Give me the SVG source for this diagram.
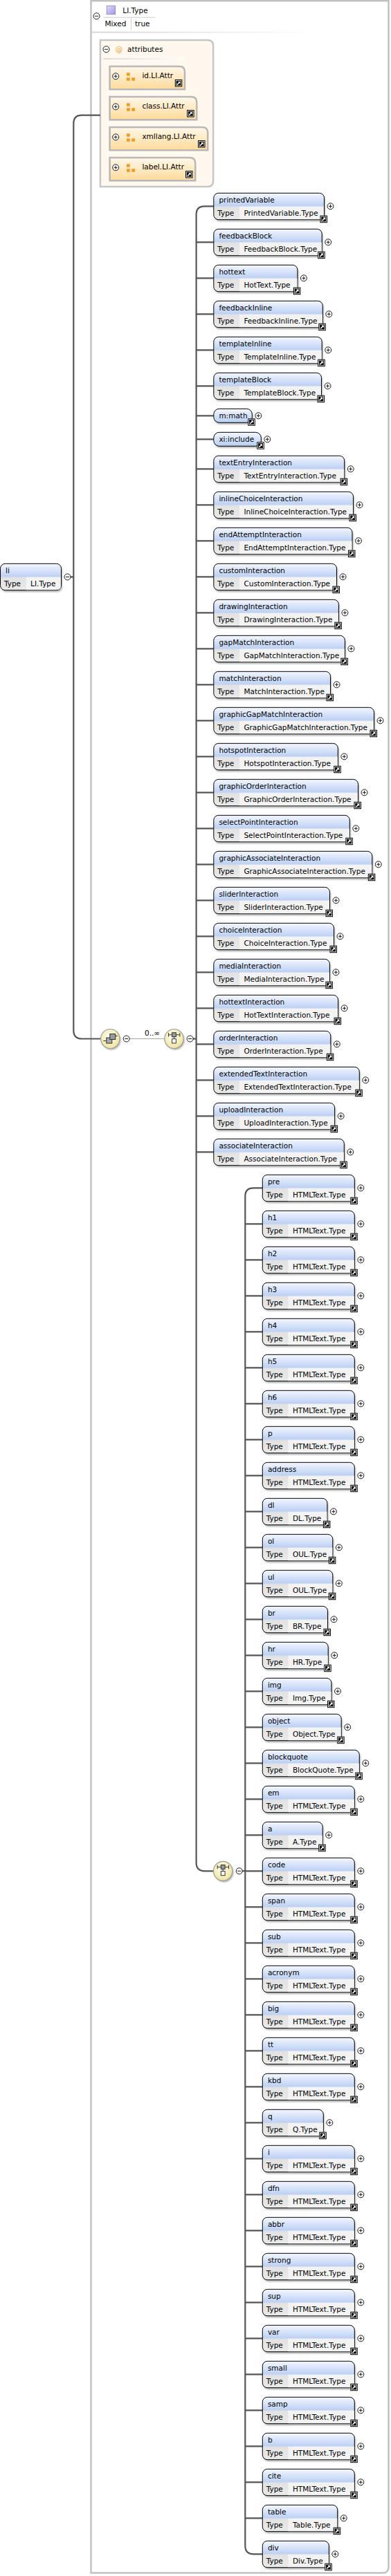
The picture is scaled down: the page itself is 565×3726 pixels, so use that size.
<svg xmlns="http://www.w3.org/2000/svg" xmlns:xlink="http://www.w3.org/1999/xlink" width="565" height="3726" viewBox="0 0 565 3726">
<style>
text{font-family:"DejaVu Sans",Verdana,sans-serif;font-size:10.5px;fill:#000}
.eb{fill:url(#ge);stroke:#000;stroke-width:1}
.sb{fill:url(#gs);stroke:#000;stroke-width:1}
.vc{fill:#f3f3f3}
.sd{fill:#000;opacity:.3;filter:url(#bl)}
.cn{fill:none;stroke:#555;stroke-width:2.2}
.ab{fill:url(#ga);stroke:#b8b8b8;stroke-width:2.5}
.oi{fill:#f39a1e}
.nd{fill:url(#gn);stroke:#9a9a9a;stroke-width:1.2}
</style>
<defs>
<filter id="bl" x="-20%" y="-30%" width="140%" height="170%"><feGaussianBlur stdDeviation="1.2"/></filter>
<linearGradient id="ge" x1="0" y1="0" x2="0" y2="1"><stop offset="0" stop-color="#f4f7fe"/><stop offset=".495" stop-color="#bbd0f4"/><stop offset=".505" stop-color="#e2e2e2"/><stop offset="1" stop-color="#e9e9e9"/></linearGradient>
<linearGradient id="gs" x1="0" y1="0" x2="0" y2="1"><stop offset="0" stop-color="#f4f7fe"/><stop offset="1" stop-color="#b8cef3"/></linearGradient>
<linearGradient id="ga" x1="0" y1="0" x2="0" y2="1"><stop offset="0" stop-color="#fff8ea"/><stop offset="1" stop-color="#ffda9a"/></linearGradient>
<linearGradient id="gf" x1="0" y1="0" x2="1" y2="0"><stop offset="0" stop-color="#d4d4d4"/><stop offset="1" stop-color="#fff"/></linearGradient>
<linearGradient id="gp" x1="0" y1="0" x2="1" y2="1"><stop offset="0" stop-color="#e4dcfb"/><stop offset="1" stop-color="#a593e2"/></linearGradient>
<radialGradient id="gn" cx=".45" cy=".4" r=".6"><stop offset="0" stop-color="#fffef0"/><stop offset="1" stop-color="#efe4a0"/></radialGradient>
<g id="lk"><rect x=".5" y=".5" width="9.5" height="9.5" fill="#fff" stroke="#000" stroke-width="1"/><rect x="1.8" y="1.8" width="6.9" height="6.9" fill="#000"/><path d="M3 7.6 L6.4 4.2" stroke="#fff" stroke-width="1.5"/><path d="M4.2 2.9 H7.6 V6.3 Z" fill="#fff"/></g>
<g id="pl"><circle r="4.5" fill="#fff" stroke="#000" stroke-width=".9"/><path d="M-2.5 0H2.5M0 -2.5V2.5" stroke="#000" stroke-width=".9"/></g>
<g id="mi"><circle r="4.5" fill="#fff" stroke="#000" stroke-width=".9"/><path d="M-2.5 0H2.5" stroke="#000" stroke-width=".9"/></g>
<g id="ai"><rect class="oi" x="0" y="0" width="4.7" height="4.4"/><rect class="oi" x="0" y="7" width="4.7" height="4.4"/><rect class="oi" x="7.3" y="7" width="4.7" height="4.4"/></g>
<g id="ci"><path d="M-8 -8.5V-3M8.3 -8.5V-3M-8 -5.7H8.3" stroke="#333" stroke-width="1"/><rect x="-2.9" y="-8.8" width="5.8" height="6" fill="#999" stroke="#333" stroke-width="1"/><path d="M0 -2.8V0.2" stroke="#333" stroke-width="1"/><rect x="-2.9" y="0.2" width="5.8" height="6.2" fill="#fff" stroke="#333" stroke-width="1"/></g>
</defs>

<g id="frame">
<path d="M131.5 1.2 H561.5 V3713 Q561.5 3721.6 553 3721.6 H131.5 Z" fill="#fff" stroke="#c2c2c2" stroke-width="2.5"/>
<rect x="133" y="45.8" width="324" height="1.8" fill="url(#gf)"/>
<use href="#mi" x="139.5" y="23.3"/>
<rect x="154.2" y="8.3" width="12.4" height="12.4" fill="url(#gp)" stroke="#8a7ac8" stroke-width=".8"/>
<text x="177.3" y="18.5">LI.Type</text>
<path d="M149.5 25.2 H224.5" stroke="#cfcfcf" stroke-width="1"/>
<text x="151.4" y="37.7">Mixed</text>
<path d="M189.5 25.5 V43" stroke="#d4d4d4" stroke-width="1"/>
<text x="195" y="37.7">true</text>
</g>

<g id="attributes">
<path d="M144.9 58 H300.1 Q308.1 58 308.1 66 V262 Q308.1 270 300.1 270 H144.9 Z" fill="#fff8ee" stroke="#c6c6c6" stroke-width="2.5"/>
<use href="#mi" x="153.5" y="71.3"/>
<text x="166.8" y="75" style="fill:#f2a23a">@</text>
<text x="184.1" y="75">attributes</text>
<rect x="149.5" y="84.3" width="117" height="1.6" fill="url(#gf)"/>
</g>
<g id="a-id" transform="translate(158.6,96)"><path class="ab" d="M0 0 H100.4 Q108.4 0 108.4 8 V33.3 H0 Z"/><use href="#pl" x="8.6" y="14.3"/><use href="#ai" x="24.4" y="9.3"/><text x="46.8" y="17.3">id.LI.Attr</text><use href="#lk" x="94.2" y="19"/></g>
<g id="a-class" transform="translate(158.6,140)"><path class="ab" d="M0 0 H117.7 Q125.7 0 125.7 8 V33.3 H0 Z"/><use href="#pl" x="8.6" y="14.3"/><use href="#ai" x="24.4" y="9.3"/><text x="46.8" y="17.3">class.LI.Attr</text><use href="#lk" x="111.5" y="19"/></g>
<g id="a-xmllang" transform="translate(158.6,184)"><path class="ab" d="M0 0 H133.6 Q141.6 0 141.6 8 V33.3 H0 Z"/><use href="#pl" x="8.6" y="14.3"/><use href="#ai" x="24.4" y="9.3"/><text x="46.8" y="17.3">xmllang.LI.Attr</text><use href="#lk" x="127.4" y="19"/></g>
<g id="a-label" transform="translate(158.6,228)"><path class="ab" d="M0 0 H115.6 Q123.6 0 123.6 8 V33.3 H0 Z"/><use href="#pl" x="8.6" y="14.3"/><use href="#ai" x="24.4" y="9.3"/><text x="46.8" y="17.3">label.LI.Attr</text><use href="#lk" x="109.4" y="19"/></g>

<g id="connectors">
<path class="cn" d="M101.5 834.5 H106.3"/>
<path class="cn" d="M144.9 166.7 H118.3 Q106.3 166.7 106.3 178.7 V1490.5 Q106.3 1502.5 118.3 1502.5 H145.6"/>
<path d="M187.2 1502.5 H237.8" stroke="#a8a8a8" stroke-width="1"/>
<path class="cn" d="M279.1 1502.5 H283.6"/>
<path class="cn" d="M308.8 298.3 H295.6 Q283.6 298.3 283.6 310.3 V2694.3 Q283.6 2706.3 295.6 2706.3 H308.6"/>
<path class="cn" d="M283.6 350.3H308.8M283.6 402.3H308.8M283.6 454.3H308.8M283.6 506.3H308.8M283.6 558.3H308.8M283.6 601.3H308.8M283.6 635.3H308.8M283.6 678.3H308.8M283.6 730.3H308.8M283.6 782.3H308.8M283.6 834.3H308.8M283.6 886.3H308.8M283.6 938.3H308.8M283.6 990.3H308.8M283.6 1042.3H308.8M283.6 1094.3H308.8M283.6 1146.3H308.8M283.6 1198.3H308.8M283.6 1250.3H308.8M283.6 1302.3H308.8M283.6 1354.3H308.8M283.6 1406.3H308.8M283.6 1458.3H308.8M283.6 1510.3H308.8M283.6 1562.3H308.8M283.6 1614.3H308.8M283.6 1666.3H308.8"/>
<path class="cn" d="M350.2 2706.3 H354.3"/>
<path class="cn" d="M379.3 1718.3 H366.3 Q354.3 1718.3 354.3 1730.3 V3682.3 Q354.3 3694.3 366.3 3694.3 H379.3"/>
<path class="cn" d="M354.3 1770.3H379.3M354.3 1822.3H379.3M354.3 1874.3H379.3M354.3 1926.3H379.3M354.3 1978.3H379.3M354.3 2030.3H379.3M354.3 2082.3H379.3M354.3 2134.3H379.3M354.3 2186.3H379.3M354.3 2238.3H379.3M354.3 2290.3H379.3M354.3 2342.3H379.3M354.3 2394.3H379.3M354.3 2446.3H379.3M354.3 2498.3H379.3M354.3 2550.3H379.3M354.3 2602.3H379.3M354.3 2654.3H379.3M354.3 2706.3H379.3M354.3 2758.3H379.3M354.3 2810.3H379.3M354.3 2862.3H379.3M354.3 2914.3H379.3M354.3 2966.3H379.3M354.3 3018.3H379.3M354.3 3070.3H379.3M354.3 3122.3H379.3M354.3 3174.3H379.3M354.3 3226.3H379.3M354.3 3278.3H379.3M354.3 3330.3H379.3M354.3 3382.3H379.3M354.3 3434.3H379.3M354.3 3486.3H379.3M354.3 3538.3H379.3M354.3 3590.3H379.3M354.3 3642.3H379.3"/>
</g>

<g id="li" transform="translate(0.5,815.3)"><rect class="sd" x="1.5" y="2.5" width="88" height="38.4" rx="7"/><rect class="eb" width="88" height="38.4" rx="7"/><path class="vc" d="M37.2 19.4 H87.5 V31.4 Q87.5 37.9 81 37.9 H37.2 Z"/><text x="7.6" y="13.4">li</text><text x="5.4" y="32.4">Type</text><text x="43.6" y="32.4">LI.Type</text><use href="#mi" x="97" y="19.2"/></g>

<g id="sequence" transform="translate(159.3,1502.5)"><ellipse class="sd" cx="1.5" cy="2.2" rx="13.7" ry="14"/><ellipse class="nd" rx="13.7" ry="14"/><path d="M-10 3H-5.5M7.5 -4H10.5" stroke="#333" stroke-width="1"/><rect x="-5.5" y="-1.5" width="8" height="8" fill="#aaa" stroke="#333" stroke-width="1"/><rect x="-0.5" y="-7" width="8" height="8" fill="#999" stroke="#333" stroke-width="1"/><use href="#mi" x="23.4" y="0"/></g>
<text x="209" y="1498.3">0..∞</text>
<g id="choice" transform="translate(251.5,1502.5)"><ellipse class="sd" cx="1.5" cy="2.2" rx="13.7" ry="14"/><ellipse class="nd" rx="13.7" ry="14"/><use href="#ci"/><use href="#mi" x="23.1" y="0"/></g>
<g id="choice2" transform="translate(322.2,2706.3)"><ellipse class="sd" cx="1.5" cy="2.2" rx="13.7" ry="14"/><ellipse class="nd" rx="13.7" ry="14"/><use href="#ci"/><use href="#mi" x="23.5" y="0"/></g>

<g id="e-printedVariable" transform="translate(308.8,279.3)"><rect class="sd" x="1.5" y="2.5" width="159.7" height="38.4" rx="7"/><rect class="eb" width="159.7" height="38.4" rx="7"/><rect class="vc" x="37.2" y="19.4" width="122" height="18.5"/><text x="7.6" y="13.4">printedVariable</text><text x="5.4" y="32.4">Type</text><text x="43.6" y="32.4">PrintedVariable.Type</text><use href="#lk" x="153.7" y="32.4"/><use href="#pl" x="168.7" y="19"/></g>
<g id="e-feedbackBlock" transform="translate(308.8,331.3)"><rect class="sd" x="1.5" y="2.5" width="156.4" height="38.4" rx="7"/><rect class="eb" width="156.4" height="38.4" rx="7"/><rect class="vc" x="37.2" y="19.4" width="118.7" height="18.5"/><text x="7.6" y="13.4">feedbackBlock</text><text x="5.4" y="32.4">Type</text><text x="43.6" y="32.4">FeedbackBlock.Type</text><use href="#lk" x="150.4" y="32.4"/><use href="#pl" x="165.4" y="19"/></g>
<g id="e-hottext" transform="translate(308.8,383.3)"><rect class="sd" x="1.5" y="2.5" width="121.1" height="38.4" rx="7"/><rect class="eb" width="121.1" height="38.4" rx="7"/><rect class="vc" x="37.2" y="19.4" width="83.4" height="18.5"/><text x="7.6" y="13.4">hottext</text><text x="5.4" y="32.4">Type</text><text x="43.6" y="32.4">HotText.Type</text><use href="#lk" x="115.1" y="32.4"/><use href="#pl" x="130.1" y="19"/></g>
<g id="e-feedbackInline" transform="translate(308.8,435.3)"><rect class="sd" x="1.5" y="2.5" width="157.5" height="38.4" rx="7"/><rect class="eb" width="157.5" height="38.4" rx="7"/><rect class="vc" x="37.2" y="19.4" width="119.8" height="18.5"/><text x="7.6" y="13.4">feedbackInline</text><text x="5.4" y="32.4">Type</text><text x="43.6" y="32.4">FeedbackInline.Type</text><use href="#lk" x="151.5" y="32.4"/><use href="#pl" x="166.5" y="19"/></g>
<g id="e-templateInline" transform="translate(308.8,487.3)"><rect class="sd" x="1.5" y="2.5" width="156.4" height="38.4" rx="7"/><rect class="eb" width="156.4" height="38.4" rx="7"/><rect class="vc" x="37.2" y="19.4" width="118.7" height="18.5"/><text x="7.6" y="13.4">templateInline</text><text x="5.4" y="32.4">Type</text><text x="43.6" y="32.4">TemplateInline.Type</text><use href="#lk" x="150.4" y="32.4"/><use href="#pl" x="165.4" y="19"/></g>
<g id="e-templateBlock" transform="translate(308.8,539.3)"><rect class="sd" x="1.5" y="2.5" width="155.7" height="38.4" rx="7"/><rect class="eb" width="155.7" height="38.4" rx="7"/><rect class="vc" x="37.2" y="19.4" width="118" height="18.5"/><text x="7.6" y="13.4">templateBlock</text><text x="5.4" y="32.4">Type</text><text x="43.6" y="32.4">TemplateBlock.Type</text><use href="#lk" x="149.7" y="32.4"/><use href="#pl" x="164.7" y="19"/></g>
<g id="e-m-math" transform="translate(308.8,591.3)"><rect class="sd" x="1.5" y="2.5" width="55.5" height="20" rx="8"/><rect class="sb" width="55.5" height="20" rx="8"/><text x="7.6" y="13.7">m:math</text><use href="#lk" x="49.5" y="14"/><use href="#pl" x="64.5" y="10"/></g>
<g id="e-xi-include" transform="translate(308.8,625.3)"><rect class="sd" x="1.5" y="2.5" width="68.5" height="20" rx="8"/><rect class="sb" width="68.5" height="20" rx="8"/><text x="7.6" y="13.7">xi:include</text><use href="#lk" x="62.5" y="14"/><use href="#pl" x="77.5" y="10"/></g>
<g id="e-textEntryInteraction" transform="translate(308.8,659.3)"><rect class="sd" x="1.5" y="2.5" width="188.9" height="38.4" rx="7"/><rect class="eb" width="188.9" height="38.4" rx="7"/><rect class="vc" x="37.2" y="19.4" width="151.2" height="18.5"/><text x="7.6" y="13.4">textEntryInteraction</text><text x="5.4" y="32.4">Type</text><text x="43.6" y="32.4">TextEntryInteraction.Type</text><use href="#lk" x="182.9" y="32.4"/><use href="#pl" x="197.9" y="19"/></g>
<g id="e-inlineChoiceInteraction" transform="translate(308.8,711.3)"><rect class="sd" x="1.5" y="2.5" width="201.7" height="38.4" rx="7"/><rect class="eb" width="201.7" height="38.4" rx="7"/><rect class="vc" x="37.2" y="19.4" width="164" height="18.5"/><text x="7.6" y="13.4">inlineChoiceInteraction</text><text x="5.4" y="32.4">Type</text><text x="43.6" y="32.4">InlineChoiceInteraction.Type</text><use href="#lk" x="195.7" y="32.4"/><use href="#pl" x="210.7" y="19"/></g>
<g id="e-endAttemptInteraction" transform="translate(308.8,763.3)"><rect class="sd" x="1.5" y="2.5" width="200.2" height="38.4" rx="7"/><rect class="eb" width="200.2" height="38.4" rx="7"/><rect class="vc" x="37.2" y="19.4" width="162.5" height="18.5"/><text x="7.6" y="13.4">endAttemptInteraction</text><text x="5.4" y="32.4">Type</text><text x="43.6" y="32.4">EndAttemptInteraction.Type</text><use href="#lk" x="194.2" y="32.4"/><use href="#pl" x="209.2" y="19"/></g>
<g id="e-customInteraction" transform="translate(308.8,815.3)"><rect class="sd" x="1.5" y="2.5" width="177.7" height="38.4" rx="7"/><rect class="eb" width="177.7" height="38.4" rx="7"/><rect class="vc" x="37.2" y="19.4" width="140" height="18.5"/><text x="7.6" y="13.4">customInteraction</text><text x="5.4" y="32.4">Type</text><text x="43.6" y="32.4">CustomInteraction.Type</text><use href="#lk" x="171.7" y="32.4"/><use href="#pl" x="186.7" y="19"/></g>
<g id="e-drawingInteraction" transform="translate(308.8,867.3)"><rect class="sd" x="1.5" y="2.5" width="180.6" height="38.4" rx="7"/><rect class="eb" width="180.6" height="38.4" rx="7"/><rect class="vc" x="37.2" y="19.4" width="142.9" height="18.5"/><text x="7.6" y="13.4">drawingInteraction</text><text x="5.4" y="32.4">Type</text><text x="43.6" y="32.4">DrawingInteraction.Type</text><use href="#lk" x="174.6" y="32.4"/><use href="#pl" x="189.6" y="19"/></g>
<g id="e-gapMatchInteraction" transform="translate(308.8,919.3)"><rect class="sd" x="1.5" y="2.5" width="189.6" height="38.4" rx="7"/><rect class="eb" width="189.6" height="38.4" rx="7"/><rect class="vc" x="37.2" y="19.4" width="151.9" height="18.5"/><text x="7.6" y="13.4">gapMatchInteraction</text><text x="5.4" y="32.4">Type</text><text x="43.6" y="32.4">GapMatchInteraction.Type</text><use href="#lk" x="183.6" y="32.4"/><use href="#pl" x="198.6" y="19"/></g>
<g id="e-matchInteraction" transform="translate(308.8,971.3)"><rect class="sd" x="1.5" y="2.5" width="168.7" height="38.4" rx="7"/><rect class="eb" width="168.7" height="38.4" rx="7"/><rect class="vc" x="37.2" y="19.4" width="131" height="18.5"/><text x="7.6" y="13.4">matchInteraction</text><text x="5.4" y="32.4">Type</text><text x="43.6" y="32.4">MatchInteraction.Type</text><use href="#lk" x="162.7" y="32.4"/><use href="#pl" x="177.7" y="19"/></g>
<g id="e-graphicGapMatchInteraction" transform="translate(308.8,1023.3)"><rect class="sd" x="1.5" y="2.5" width="231.7" height="38.4" rx="7"/><rect class="eb" width="231.7" height="38.4" rx="7"/><rect class="vc" x="37.2" y="19.4" width="194" height="18.5"/><text x="7.6" y="13.4">graphicGapMatchInteraction</text><text x="5.4" y="32.4">Type</text><text x="43.6" y="32.4">GraphicGapMatchInteraction.Type</text><use href="#lk" x="225.7" y="32.4"/><use href="#pl" x="240.7" y="19"/></g>
<g id="e-hotspotInteraction" transform="translate(308.8,1075.3)"><rect class="sd" x="1.5" y="2.5" width="179.5" height="38.4" rx="7"/><rect class="eb" width="179.5" height="38.4" rx="7"/><rect class="vc" x="37.2" y="19.4" width="141.8" height="18.5"/><text x="7.6" y="13.4">hotspotInteraction</text><text x="5.4" y="32.4">Type</text><text x="43.6" y="32.4">HotspotInteraction.Type</text><use href="#lk" x="173.5" y="32.4"/><use href="#pl" x="188.5" y="19"/></g>
<g id="e-graphicOrderInteraction" transform="translate(308.8,1127.3)"><rect class="sd" x="1.5" y="2.5" width="208.7" height="38.4" rx="7"/><rect class="eb" width="208.7" height="38.4" rx="7"/><rect class="vc" x="37.2" y="19.4" width="171" height="18.5"/><text x="7.6" y="13.4">graphicOrderInteraction</text><text x="5.4" y="32.4">Type</text><text x="43.6" y="32.4">GraphicOrderInteraction.Type</text><use href="#lk" x="202.7" y="32.4"/><use href="#pl" x="217.7" y="19"/></g>
<g id="e-selectPointInteraction" transform="translate(308.8,1179.3)"><rect class="sd" x="1.5" y="2.5" width="196.5" height="38.4" rx="7"/><rect class="eb" width="196.5" height="38.4" rx="7"/><rect class="vc" x="37.2" y="19.4" width="158.8" height="18.5"/><text x="7.6" y="13.4">selectPointInteraction</text><text x="5.4" y="32.4">Type</text><text x="43.6" y="32.4">SelectPointInteraction.Type</text><use href="#lk" x="190.5" y="32.4"/><use href="#pl" x="205.5" y="19"/></g>
<g id="e-graphicAssociateInteraction" transform="translate(308.8,1231.3)"><rect class="sd" x="1.5" y="2.5" width="229" height="38.4" rx="7"/><rect class="eb" width="229" height="38.4" rx="7"/><rect class="vc" x="37.2" y="19.4" width="191.3" height="18.5"/><text x="7.6" y="13.4">graphicAssociateInteraction</text><text x="5.4" y="32.4">Type</text><text x="43.6" y="32.4">GraphicAssociateInteraction.Type</text><use href="#lk" x="223" y="32.4"/><use href="#pl" x="238" y="19"/></g>
<g id="e-sliderInteraction" transform="translate(308.8,1283.3)"><rect class="sd" x="1.5" y="2.5" width="167.7" height="38.4" rx="7"/><rect class="eb" width="167.7" height="38.4" rx="7"/><rect class="vc" x="37.2" y="19.4" width="130" height="18.5"/><text x="7.6" y="13.4">sliderInteraction</text><text x="5.4" y="32.4">Type</text><text x="43.6" y="32.4">SliderInteraction.Type</text><use href="#lk" x="161.7" y="32.4"/><use href="#pl" x="176.7" y="19"/></g>
<g id="e-choiceInteraction" transform="translate(308.8,1335.3)"><rect class="sd" x="1.5" y="2.5" width="173.7" height="38.4" rx="7"/><rect class="eb" width="173.7" height="38.4" rx="7"/><rect class="vc" x="37.2" y="19.4" width="136" height="18.5"/><text x="7.6" y="13.4">choiceInteraction</text><text x="5.4" y="32.4">Type</text><text x="43.6" y="32.4">ChoiceInteraction.Type</text><use href="#lk" x="167.7" y="32.4"/><use href="#pl" x="182.7" y="19"/></g>
<g id="e-mediaInteraction" transform="translate(308.8,1387.3)"><rect class="sd" x="1.5" y="2.5" width="167.6" height="38.4" rx="7"/><rect class="eb" width="167.6" height="38.4" rx="7"/><rect class="vc" x="37.2" y="19.4" width="129.9" height="18.5"/><text x="7.6" y="13.4">mediaInteraction</text><text x="5.4" y="32.4">Type</text><text x="43.6" y="32.4">MediaInteraction.Type</text><use href="#lk" x="161.6" y="32.4"/><use href="#pl" x="176.6" y="19"/></g>
<g id="e-hottextInteraction" transform="translate(308.8,1439.3)"><rect class="sd" x="1.5" y="2.5" width="179.8" height="38.4" rx="7"/><rect class="eb" width="179.8" height="38.4" rx="7"/><rect class="vc" x="37.2" y="19.4" width="142.1" height="18.5"/><text x="7.6" y="13.4">hottextInteraction</text><text x="5.4" y="32.4">Type</text><text x="43.6" y="32.4">HotTextInteraction.Type</text><use href="#lk" x="173.8" y="32.4"/><use href="#pl" x="188.8" y="19"/></g>
<g id="e-orderInteraction" transform="translate(308.8,1491.3)"><rect class="sd" x="1.5" y="2.5" width="169" height="38.4" rx="7"/><rect class="eb" width="169" height="38.4" rx="7"/><rect class="vc" x="37.2" y="19.4" width="131.3" height="18.5"/><text x="7.6" y="13.4">orderInteraction</text><text x="5.4" y="32.4">Type</text><text x="43.6" y="32.4">OrderInteraction.Type</text><use href="#lk" x="163" y="32.4"/><use href="#pl" x="178" y="19"/></g>
<g id="e-extendedTextInteraction" transform="translate(308.8,1543.3)"><rect class="sd" x="1.5" y="2.5" width="210.5" height="38.4" rx="7"/><rect class="eb" width="210.5" height="38.4" rx="7"/><rect class="vc" x="37.2" y="19.4" width="172.8" height="18.5"/><text x="7.6" y="13.4">extendedTextInteraction</text><text x="5.4" y="32.4">Type</text><text x="43.6" y="32.4">ExtendedTextInteraction.Type</text><use href="#lk" x="204.5" y="32.4"/><use href="#pl" x="219.5" y="19"/></g>
<g id="e-uploadInteraction" transform="translate(308.8,1595.3)"><rect class="sd" x="1.5" y="2.5" width="174.8" height="38.4" rx="7"/><rect class="eb" width="174.8" height="38.4" rx="7"/><rect class="vc" x="37.2" y="19.4" width="137.1" height="18.5"/><text x="7.6" y="13.4">uploadInteraction</text><text x="5.4" y="32.4">Type</text><text x="43.6" y="32.4">UploadInteraction.Type</text><use href="#lk" x="168.8" y="32.4"/><use href="#pl" x="183.8" y="19"/></g>
<g id="e-associateInteraction" transform="translate(308.8,1647.3)"><rect class="sd" x="1.5" y="2.5" width="188.5" height="38.4" rx="7"/><rect class="eb" width="188.5" height="38.4" rx="7"/><rect class="vc" x="37.2" y="19.4" width="150.8" height="18.5"/><text x="7.6" y="13.4">associateInteraction</text><text x="5.4" y="32.4">Type</text><text x="43.6" y="32.4">AssociateInteraction.Type</text><use href="#lk" x="182.5" y="32.4"/><use href="#pl" x="197.5" y="19"/></g>

<g id="h-pre" transform="translate(379.3,1699.3)"><rect class="sd" x="1.5" y="2.5" width="133" height="38.4" rx="7"/><rect class="eb" width="133" height="38.4" rx="7"/><rect class="vc" x="37.2" y="19.4" width="95.3" height="18.5"/><text x="7.6" y="13.4">pre</text><text x="5.4" y="32.4">Type</text><text x="43.6" y="32.4">HTMLText.Type</text><use href="#lk" x="127" y="32.4"/><use href="#pl" x="142" y="19"/></g>
<g id="h-h1" transform="translate(379.3,1751.3)"><rect class="sd" x="1.5" y="2.5" width="133" height="38.4" rx="7"/><rect class="eb" width="133" height="38.4" rx="7"/><rect class="vc" x="37.2" y="19.4" width="95.3" height="18.5"/><text x="7.6" y="13.4">h1</text><text x="5.4" y="32.4">Type</text><text x="43.6" y="32.4">HTMLText.Type</text><use href="#lk" x="127" y="32.4"/><use href="#pl" x="142" y="19"/></g>
<g id="h-h2" transform="translate(379.3,1803.3)"><rect class="sd" x="1.5" y="2.5" width="133" height="38.4" rx="7"/><rect class="eb" width="133" height="38.4" rx="7"/><rect class="vc" x="37.2" y="19.4" width="95.3" height="18.5"/><text x="7.6" y="13.4">h2</text><text x="5.4" y="32.4">Type</text><text x="43.6" y="32.4">HTMLText.Type</text><use href="#lk" x="127" y="32.4"/><use href="#pl" x="142" y="19"/></g>
<g id="h-h3" transform="translate(379.3,1855.3)"><rect class="sd" x="1.5" y="2.5" width="133" height="38.4" rx="7"/><rect class="eb" width="133" height="38.4" rx="7"/><rect class="vc" x="37.2" y="19.4" width="95.3" height="18.5"/><text x="7.6" y="13.4">h3</text><text x="5.4" y="32.4">Type</text><text x="43.6" y="32.4">HTMLText.Type</text><use href="#lk" x="127" y="32.4"/><use href="#pl" x="142" y="19"/></g>
<g id="h-h4" transform="translate(379.3,1907.3)"><rect class="sd" x="1.5" y="2.5" width="133" height="38.4" rx="7"/><rect class="eb" width="133" height="38.4" rx="7"/><rect class="vc" x="37.2" y="19.4" width="95.3" height="18.5"/><text x="7.6" y="13.4">h4</text><text x="5.4" y="32.4">Type</text><text x="43.6" y="32.4">HTMLText.Type</text><use href="#lk" x="127" y="32.4"/><use href="#pl" x="142" y="19"/></g>
<g id="h-h5" transform="translate(379.3,1959.3)"><rect class="sd" x="1.5" y="2.5" width="133" height="38.4" rx="7"/><rect class="eb" width="133" height="38.4" rx="7"/><rect class="vc" x="37.2" y="19.4" width="95.3" height="18.5"/><text x="7.6" y="13.4">h5</text><text x="5.4" y="32.4">Type</text><text x="43.6" y="32.4">HTMLText.Type</text><use href="#lk" x="127" y="32.4"/><use href="#pl" x="142" y="19"/></g>
<g id="h-h6" transform="translate(379.3,2011.3)"><rect class="sd" x="1.5" y="2.5" width="133" height="38.4" rx="7"/><rect class="eb" width="133" height="38.4" rx="7"/><rect class="vc" x="37.2" y="19.4" width="95.3" height="18.5"/><text x="7.6" y="13.4">h6</text><text x="5.4" y="32.4">Type</text><text x="43.6" y="32.4">HTMLText.Type</text><use href="#lk" x="127" y="32.4"/><use href="#pl" x="142" y="19"/></g>
<g id="h-p" transform="translate(379.3,2063.3)"><rect class="sd" x="1.5" y="2.5" width="133" height="38.4" rx="7"/><rect class="eb" width="133" height="38.4" rx="7"/><rect class="vc" x="37.2" y="19.4" width="95.3" height="18.5"/><text x="7.6" y="13.4">p</text><text x="5.4" y="32.4">Type</text><text x="43.6" y="32.4">HTMLText.Type</text><use href="#lk" x="127" y="32.4"/><use href="#pl" x="142" y="19"/></g>
<g id="h-address" transform="translate(379.3,2115.3)"><rect class="sd" x="1.5" y="2.5" width="133" height="38.4" rx="7"/><rect class="eb" width="133" height="38.4" rx="7"/><rect class="vc" x="37.2" y="19.4" width="95.3" height="18.5"/><text x="7.6" y="13.4">address</text><text x="5.4" y="32.4">Type</text><text x="43.6" y="32.4">HTMLText.Type</text><use href="#lk" x="127" y="32.4"/><use href="#pl" x="142" y="19"/></g>
<g id="h-dl" transform="translate(379.3,2167.3)"><rect class="sd" x="1.5" y="2.5" width="93.6" height="38.4" rx="7"/><rect class="eb" width="93.6" height="38.4" rx="7"/><rect class="vc" x="37.2" y="19.4" width="55.9" height="18.5"/><text x="7.6" y="13.4">dl</text><text x="5.4" y="32.4">Type</text><text x="43.6" y="32.4">DL.Type</text><use href="#lk" x="87.6" y="32.4"/><use href="#pl" x="102.6" y="19"/></g>
<g id="h-ol" transform="translate(379.3,2219.3)"><rect class="sd" x="1.5" y="2.5" width="101.5" height="38.4" rx="7"/><rect class="eb" width="101.5" height="38.4" rx="7"/><rect class="vc" x="37.2" y="19.4" width="63.8" height="18.5"/><text x="7.6" y="13.4">ol</text><text x="5.4" y="32.4">Type</text><text x="43.6" y="32.4">OUL.Type</text><use href="#lk" x="95.5" y="32.4"/><use href="#pl" x="110.5" y="19"/></g>
<g id="h-ul" transform="translate(379.3,2271.3)"><rect class="sd" x="1.5" y="2.5" width="101.5" height="38.4" rx="7"/><rect class="eb" width="101.5" height="38.4" rx="7"/><rect class="vc" x="37.2" y="19.4" width="63.8" height="18.5"/><text x="7.6" y="13.4">ul</text><text x="5.4" y="32.4">Type</text><text x="43.6" y="32.4">OUL.Type</text><use href="#lk" x="95.5" y="32.4"/><use href="#pl" x="110.5" y="19"/></g>
<g id="h-br" transform="translate(379.3,2323.3)"><rect class="sd" x="1.5" y="2.5" width="94.2" height="38.4" rx="7"/><rect class="eb" width="94.2" height="38.4" rx="7"/><rect class="vc" x="37.2" y="19.4" width="56.5" height="18.5"/><text x="7.6" y="13.4">br</text><text x="5.4" y="32.4">Type</text><text x="43.6" y="32.4">BR.Type</text><use href="#lk" x="88.2" y="32.4"/><use href="#pl" x="103.2" y="19"/></g>
<g id="h-hr" transform="translate(379.3,2375.3)"><rect class="sd" x="1.5" y="2.5" width="94.9" height="38.4" rx="7"/><rect class="eb" width="94.9" height="38.4" rx="7"/><rect class="vc" x="37.2" y="19.4" width="57.2" height="18.5"/><text x="7.6" y="13.4">hr</text><text x="5.4" y="32.4">Type</text><text x="43.6" y="32.4">HR.Type</text><use href="#lk" x="88.9" y="32.4"/><use href="#pl" x="103.9" y="19"/></g>
<g id="h-img" transform="translate(379.3,2427.3)"><rect class="sd" x="1.5" y="2.5" width="99.7" height="38.4" rx="7"/><rect class="eb" width="99.7" height="38.4" rx="7"/><rect class="vc" x="37.2" y="19.4" width="62" height="18.5"/><text x="7.6" y="13.4">img</text><text x="5.4" y="32.4">Type</text><text x="43.6" y="32.4">Img.Type</text><use href="#lk" x="93.7" y="32.4"/><use href="#pl" x="108.7" y="19"/></g>
<g id="h-object" transform="translate(379.3,2479.3)"><rect class="sd" x="1.5" y="2.5" width="113.9" height="38.4" rx="7"/><rect class="eb" width="113.9" height="38.4" rx="7"/><rect class="vc" x="37.2" y="19.4" width="76.2" height="18.5"/><text x="7.6" y="13.4">object</text><text x="5.4" y="32.4">Type</text><text x="43.6" y="32.4">Object.Type</text><use href="#lk" x="107.9" y="32.4"/><use href="#pl" x="122.9" y="19"/></g>
<g id="h-blockquote" transform="translate(379.3,2531.3)"><rect class="sd" x="1.5" y="2.5" width="140" height="38.4" rx="7"/><rect class="eb" width="140" height="38.4" rx="7"/><rect class="vc" x="37.2" y="19.4" width="102.3" height="18.5"/><text x="7.6" y="13.4">blockquote</text><text x="5.4" y="32.4">Type</text><text x="43.6" y="32.4">BlockQuote.Type</text><use href="#lk" x="134" y="32.4"/><use href="#pl" x="149" y="19"/></g>
<g id="h-em" transform="translate(379.3,2583.3)"><rect class="sd" x="1.5" y="2.5" width="133" height="38.4" rx="7"/><rect class="eb" width="133" height="38.4" rx="7"/><rect class="vc" x="37.2" y="19.4" width="95.3" height="18.5"/><text x="7.6" y="13.4">em</text><text x="5.4" y="32.4">Type</text><text x="43.6" y="32.4">HTMLText.Type</text><use href="#lk" x="127" y="32.4"/><use href="#pl" x="142" y="19"/></g>
<g id="h-a" transform="translate(379.3,2635.3)"><rect class="sd" x="1.5" y="2.5" width="86.9" height="38.4" rx="7"/><rect class="eb" width="86.9" height="38.4" rx="7"/><rect class="vc" x="37.2" y="19.4" width="49.2" height="18.5"/><text x="7.6" y="13.4">a</text><text x="5.4" y="32.4">Type</text><text x="43.6" y="32.4">A.Type</text><use href="#lk" x="80.9" y="32.4"/><use href="#pl" x="95.9" y="19"/></g>
<g id="h-code" transform="translate(379.3,2687.3)"><rect class="sd" x="1.5" y="2.5" width="133" height="38.4" rx="7"/><rect class="eb" width="133" height="38.4" rx="7"/><rect class="vc" x="37.2" y="19.4" width="95.3" height="18.5"/><text x="7.6" y="13.4">code</text><text x="5.4" y="32.4">Type</text><text x="43.6" y="32.4">HTMLText.Type</text><use href="#lk" x="127" y="32.4"/><use href="#pl" x="142" y="19"/></g>
<g id="h-span" transform="translate(379.3,2739.3)"><rect class="sd" x="1.5" y="2.5" width="133" height="38.4" rx="7"/><rect class="eb" width="133" height="38.4" rx="7"/><rect class="vc" x="37.2" y="19.4" width="95.3" height="18.5"/><text x="7.6" y="13.4">span</text><text x="5.4" y="32.4">Type</text><text x="43.6" y="32.4">HTMLText.Type</text><use href="#lk" x="127" y="32.4"/><use href="#pl" x="142" y="19"/></g>
<g id="h-sub" transform="translate(379.3,2791.3)"><rect class="sd" x="1.5" y="2.5" width="133" height="38.4" rx="7"/><rect class="eb" width="133" height="38.4" rx="7"/><rect class="vc" x="37.2" y="19.4" width="95.3" height="18.5"/><text x="7.6" y="13.4">sub</text><text x="5.4" y="32.4">Type</text><text x="43.6" y="32.4">HTMLText.Type</text><use href="#lk" x="127" y="32.4"/><use href="#pl" x="142" y="19"/></g>
<g id="h-acronym" transform="translate(379.3,2843.3)"><rect class="sd" x="1.5" y="2.5" width="133" height="38.4" rx="7"/><rect class="eb" width="133" height="38.4" rx="7"/><rect class="vc" x="37.2" y="19.4" width="95.3" height="18.5"/><text x="7.6" y="13.4">acronym</text><text x="5.4" y="32.4">Type</text><text x="43.6" y="32.4">HTMLText.Type</text><use href="#lk" x="127" y="32.4"/><use href="#pl" x="142" y="19"/></g>
<g id="h-big" transform="translate(379.3,2895.3)"><rect class="sd" x="1.5" y="2.5" width="133" height="38.4" rx="7"/><rect class="eb" width="133" height="38.4" rx="7"/><rect class="vc" x="37.2" y="19.4" width="95.3" height="18.5"/><text x="7.6" y="13.4">big</text><text x="5.4" y="32.4">Type</text><text x="43.6" y="32.4">HTMLText.Type</text><use href="#lk" x="127" y="32.4"/><use href="#pl" x="142" y="19"/></g>
<g id="h-tt" transform="translate(379.3,2947.3)"><rect class="sd" x="1.5" y="2.5" width="133" height="38.4" rx="7"/><rect class="eb" width="133" height="38.4" rx="7"/><rect class="vc" x="37.2" y="19.4" width="95.3" height="18.5"/><text x="7.6" y="13.4">tt</text><text x="5.4" y="32.4">Type</text><text x="43.6" y="32.4">HTMLText.Type</text><use href="#lk" x="127" y="32.4"/><use href="#pl" x="142" y="19"/></g>
<g id="h-kbd" transform="translate(379.3,2999.3)"><rect class="sd" x="1.5" y="2.5" width="133" height="38.4" rx="7"/><rect class="eb" width="133" height="38.4" rx="7"/><rect class="vc" x="37.2" y="19.4" width="95.3" height="18.5"/><text x="7.6" y="13.4">kbd</text><text x="5.4" y="32.4">Type</text><text x="43.6" y="32.4">HTMLText.Type</text><use href="#lk" x="127" y="32.4"/><use href="#pl" x="142" y="19"/></g>
<g id="h-q" transform="translate(379.3,3051.3)"><rect class="sd" x="1.5" y="2.5" width="88" height="38.4" rx="7"/><rect class="eb" width="88" height="38.4" rx="7"/><rect class="vc" x="37.2" y="19.4" width="50.3" height="18.5"/><text x="7.6" y="13.4">q</text><text x="5.4" y="32.4">Type</text><text x="43.6" y="32.4">Q.Type</text><use href="#lk" x="82" y="32.4"/><use href="#pl" x="97" y="19"/></g>
<g id="h-i" transform="translate(379.3,3103.3)"><rect class="sd" x="1.5" y="2.5" width="133" height="38.4" rx="7"/><rect class="eb" width="133" height="38.4" rx="7"/><rect class="vc" x="37.2" y="19.4" width="95.3" height="18.5"/><text x="7.6" y="13.4">i</text><text x="5.4" y="32.4">Type</text><text x="43.6" y="32.4">HTMLText.Type</text><use href="#lk" x="127" y="32.4"/><use href="#pl" x="142" y="19"/></g>
<g id="h-dfn" transform="translate(379.3,3155.3)"><rect class="sd" x="1.5" y="2.5" width="133" height="38.4" rx="7"/><rect class="eb" width="133" height="38.4" rx="7"/><rect class="vc" x="37.2" y="19.4" width="95.3" height="18.5"/><text x="7.6" y="13.4">dfn</text><text x="5.4" y="32.4">Type</text><text x="43.6" y="32.4">HTMLText.Type</text><use href="#lk" x="127" y="32.4"/><use href="#pl" x="142" y="19"/></g>
<g id="h-abbr" transform="translate(379.3,3207.3)"><rect class="sd" x="1.5" y="2.5" width="133" height="38.4" rx="7"/><rect class="eb" width="133" height="38.4" rx="7"/><rect class="vc" x="37.2" y="19.4" width="95.3" height="18.5"/><text x="7.6" y="13.4">abbr</text><text x="5.4" y="32.4">Type</text><text x="43.6" y="32.4">HTMLText.Type</text><use href="#lk" x="127" y="32.4"/><use href="#pl" x="142" y="19"/></g>
<g id="h-strong" transform="translate(379.3,3259.3)"><rect class="sd" x="1.5" y="2.5" width="133" height="38.4" rx="7"/><rect class="eb" width="133" height="38.4" rx="7"/><rect class="vc" x="37.2" y="19.4" width="95.3" height="18.5"/><text x="7.6" y="13.4">strong</text><text x="5.4" y="32.4">Type</text><text x="43.6" y="32.4">HTMLText.Type</text><use href="#lk" x="127" y="32.4"/><use href="#pl" x="142" y="19"/></g>
<g id="h-sup" transform="translate(379.3,3311.3)"><rect class="sd" x="1.5" y="2.5" width="133" height="38.4" rx="7"/><rect class="eb" width="133" height="38.4" rx="7"/><rect class="vc" x="37.2" y="19.4" width="95.3" height="18.5"/><text x="7.6" y="13.4">sup</text><text x="5.4" y="32.4">Type</text><text x="43.6" y="32.4">HTMLText.Type</text><use href="#lk" x="127" y="32.4"/><use href="#pl" x="142" y="19"/></g>
<g id="h-var" transform="translate(379.3,3363.3)"><rect class="sd" x="1.5" y="2.5" width="133" height="38.4" rx="7"/><rect class="eb" width="133" height="38.4" rx="7"/><rect class="vc" x="37.2" y="19.4" width="95.3" height="18.5"/><text x="7.6" y="13.4">var</text><text x="5.4" y="32.4">Type</text><text x="43.6" y="32.4">HTMLText.Type</text><use href="#lk" x="127" y="32.4"/><use href="#pl" x="142" y="19"/></g>
<g id="h-small" transform="translate(379.3,3415.3)"><rect class="sd" x="1.5" y="2.5" width="133" height="38.4" rx="7"/><rect class="eb" width="133" height="38.4" rx="7"/><rect class="vc" x="37.2" y="19.4" width="95.3" height="18.5"/><text x="7.6" y="13.4">small</text><text x="5.4" y="32.4">Type</text><text x="43.6" y="32.4">HTMLText.Type</text><use href="#lk" x="127" y="32.4"/><use href="#pl" x="142" y="19"/></g>
<g id="h-samp" transform="translate(379.3,3467.3)"><rect class="sd" x="1.5" y="2.5" width="133" height="38.4" rx="7"/><rect class="eb" width="133" height="38.4" rx="7"/><rect class="vc" x="37.2" y="19.4" width="95.3" height="18.5"/><text x="7.6" y="13.4">samp</text><text x="5.4" y="32.4">Type</text><text x="43.6" y="32.4">HTMLText.Type</text><use href="#lk" x="127" y="32.4"/><use href="#pl" x="142" y="19"/></g>
<g id="h-b" transform="translate(379.3,3519.3)"><rect class="sd" x="1.5" y="2.5" width="133" height="38.4" rx="7"/><rect class="eb" width="133" height="38.4" rx="7"/><rect class="vc" x="37.2" y="19.4" width="95.3" height="18.5"/><text x="7.6" y="13.4">b</text><text x="5.4" y="32.4">Type</text><text x="43.6" y="32.4">HTMLText.Type</text><use href="#lk" x="127" y="32.4"/><use href="#pl" x="142" y="19"/></g>
<g id="h-cite" transform="translate(379.3,3571.3)"><rect class="sd" x="1.5" y="2.5" width="133" height="38.4" rx="7"/><rect class="eb" width="133" height="38.4" rx="7"/><rect class="vc" x="37.2" y="19.4" width="95.3" height="18.5"/><text x="7.6" y="13.4">cite</text><text x="5.4" y="32.4">Type</text><text x="43.6" y="32.4">HTMLText.Type</text><use href="#lk" x="127" y="32.4"/><use href="#pl" x="142" y="19"/></g>
<g id="h-table" transform="translate(379.3,3623.3)"><rect class="sd" x="1.5" y="2.5" width="108.4" height="38.4" rx="7"/><rect class="eb" width="108.4" height="38.4" rx="7"/><rect class="vc" x="37.2" y="19.4" width="70.7" height="18.5"/><text x="7.6" y="13.4">table</text><text x="5.4" y="32.4">Type</text><text x="43.6" y="32.4">Table.Type</text><use href="#lk" x="102.4" y="32.4"/><use href="#pl" x="117.4" y="19"/></g>
<g id="h-div" transform="translate(379.3,3675.3)"><rect class="sd" x="1.5" y="2.5" width="96" height="38.4" rx="7"/><rect class="eb" width="96" height="38.4" rx="7"/><rect class="vc" x="37.2" y="19.4" width="58.3" height="18.5"/><text x="7.6" y="13.4">div</text><text x="5.4" y="32.4">Type</text><text x="43.6" y="32.4">Div.Type</text><use href="#lk" x="90" y="32.4"/><use href="#pl" x="105" y="19"/></g>
</svg>
